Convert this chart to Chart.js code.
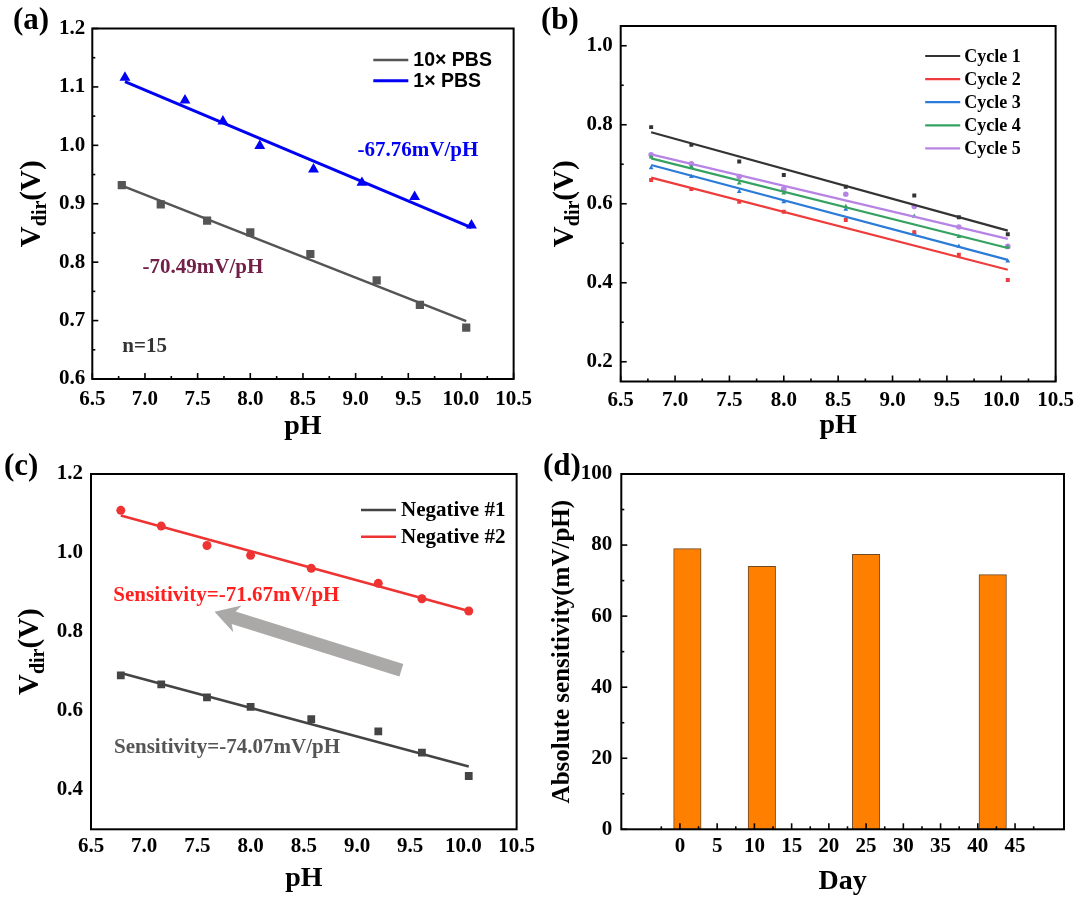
<!DOCTYPE html>
<html>
<head>
<meta charset="utf-8">
<script src="https://cdn.jsdelivr.net/npm/chart.js@4.4.1/dist/chart.umd.min.js"></script>
<style>
  html, body { margin: 0; padding: 0; background: #fff; }
  #fig { position: relative; width: 1080px; height: 901px; overflow: hidden; }
  #fig canvas { position: absolute; }
  .tag { position: absolute; font: bold 31px "Liberation Serif", "Times New Roman", serif; line-height: 1; color: #000; }
</style>
</head>
<body>
<div id="fig">
  <canvas id="ca" width="540" height="450" style="left:0;top:0"></canvas>
  <canvas id="cb" width="540" height="450" style="left:540px;top:0"></canvas>
  <canvas id="cc" width="540" height="451" style="left:0;top:450px"></canvas>
  <canvas id="cd" width="540" height="451" style="left:540px;top:450px"></canvas>
  <div class="tag" style="left:13px;top:3px">(a)</div>
  <div class="tag" style="left:541px;top:3px">(b)</div>
  <div class="tag" style="left:4px;top:449px">(c)</div>
  <div class="tag" style="left:543px;top:449px">(d)</div>
</div>
<script>
// ---- data ----
// tick labels
const phTicks = ['6.5', '7.0', '7.5', '8.0', '8.5', '9.0', '9.5', '10.0', '10.5'];
const vTicksA = ['0.6', '0.7', '0.8', '0.9', '1.0', '1.1', '1.2'];
const vTicksB = ['0.2', '0.4', '0.6', '0.8', '1.0'];
const vTicksC = ['0.4', '0.6', '0.8', '1.0', '1.2'];
const dayTicks = ['0', '5', '10', '15', '20', '25', '30', '35', '40', '45'];
const sensTicks = ['0', '20', '40', '60', '80', '100'];

// (a) buffer concentration
const phA10 = [6.78, 7.15, 7.59, 8.00, 8.57, 9.20, 9.61, 10.05];
const vA10 = [0.932, 0.899, 0.871, 0.851, 0.814, 0.769, 0.727, 0.688];
const fitA10 = [0.931, 0.699];
const phA1 = [6.81, 7.38, 7.74, 8.09, 8.60, 9.06, 9.56, 10.10];
const vA1 = [1.116, 1.077, 1.041, 0.999, 0.959, 0.936, 0.912, 0.863];
const fitA1 = [1.109, 0.859];

// (b) five cycles
const phB = [6.78, 7.15, 7.59, 8.00, 8.57, 9.20, 9.61, 10.06];
const cycle1 = [0.794, 0.749, 0.707, 0.673, 0.643, 0.621, 0.566, 0.523];
const cycle2 = [0.660, 0.637, 0.605, 0.580, 0.559, 0.528, 0.471, 0.407];
const cycle3 = [0.691, 0.669, 0.631, 0.605, 0.586, 0.527, 0.492, 0.455];
const cycle4 = [0.718, 0.694, 0.652, 0.627, 0.593, 0.568, 0.517, 0.490];
const cycle5 = [0.724, 0.701, 0.669, 0.637, 0.624, 0.593, 0.541, 0.492];
const fitB = [[0.781, 0.532], [0.666, 0.433], [0.698, 0.458], [0.715, 0.488], [0.725, 0.511]];

// (c) two negatives
const phC = [6.78, 7.16, 7.59, 8.00, 8.57, 9.20, 9.61, 10.05];
const neg1 = [0.690, 0.667, 0.634, 0.610, 0.579, 0.548, 0.494, 0.435];
const neg2 = [1.108, 1.068, 1.019, 0.994, 0.961, 0.923, 0.884, 0.853];
const fitNeg1 = [0.696, 0.459];
const fitNeg2 = [1.095, 0.853];

// (d) stability over days
const days = [1, 11, 25, 42];
const sens = [79.0, 74.0, 77.4, 71.7];

// ---- helpers ----
const serif = '"Liberation Serif", "Times New Roman", serif';
const sans = '"Liberation Sans", Arial, sans-serif';

const pts = (xs, ys) => xs.map((x, i) => ({ x, y: ys[i] }));
const fit = (xs, ends) => [{ x: xs[0], y: ends[0] }, { x: xs[xs.length - 1], y: ends[1] }];

function axis(min, max, labels, size, pad, title) {
  const a = {
    type: 'linear', min, max,
    grid: { display: false, drawTicks: false }, border: { display: false },
    afterBuildTicks: s => { s.ticks = labels.map(l => ({ value: +l })); },
    ticks: {
      color: '#000', padding: pad, autoSkip: false, maxRotation: 0,
      font: { family: serif, size: 21, weight: 'bold' },
      callback: (v, i) => labels[i]
    },
    afterFit: s => { if (s.axis === 'x') s.height = size; else s.width = size; }
  };
  if (title) a.title = { display: true, text: title.text, color: '#000', padding: title.pad, font: { family: serif, size: title.size, weight: 'bold' } };
  return a;
}

const decor = {
  id: 'decor',
  afterDraw(chart, _a, o) {
    const { ctx, chartArea: ca, scales: { x, y } } = chart;
    ctx.save();
    if (o.arrow) {
      const a = o.arrow;
      const x0 = x.getPixelForValue(a.from[0]), y0 = y.getPixelForValue(a.from[1]);
      const x1 = x.getPixelForValue(a.to[0]), y1 = y.getPixelForValue(a.to[1]);
      const len = Math.hypot(x1 - x0, y1 - y0);
      ctx.save();
      ctx.translate(x0, y0);
      ctx.rotate(Math.atan2(y1 - y0, x1 - x0));
      const hw = a.width / 2, hh = a.headWidth / 2, hl = a.head;
      ctx.beginPath();
      ctx.moveTo(0, -hw); ctx.lineTo(len - hl, -hw); ctx.lineTo(len - hl - 4, -hh);
      ctx.lineTo(len, 0);
      ctx.lineTo(len - hl - 4, hh); ctx.lineTo(len - hl, hw); ctx.lineTo(0, hw);
      ctx.closePath();
      ctx.fillStyle = a.color;
      ctx.fill();
      ctx.restore();
    }
    if (o.ticks) {
      ctx.strokeStyle = '#000';
      ctx.lineWidth = 1.6;
      const mark = (s, v, len) => {
        const p = s.getPixelForValue(v);
        ctx.beginPath();
        if (s.axis === 'x') { ctx.moveTo(p, ca.bottom); ctx.lineTo(p, ca.bottom - len); }
        else { ctx.moveTo(ca.left, p); ctx.lineTo(ca.left + len, p); }
        ctx.stroke();
      };
      for (const s of [x, y]) {
        const t = s.ticks.map(k => k.value);
        t.forEach(v => mark(s, v, 6));
        const h = (t[1] - t[0]) / 2;
        for (let v = t[0] - h; v <= s.max + 1e-9; v += 2 * h) if (v >= s.min - 1e-9) mark(s, v, 3);
      }
    }
    ctx.lineWidth = 2;
    ctx.strokeStyle = '#000';
    ctx.strokeRect(ca.left, ca.top, ca.right - ca.left, ca.bottom - ca.top);

    ctx.textAlign = 'left';
    ctx.textBaseline = 'middle';
    for (const n of o.notes || []) {
      ctx.font = `bold ${n.size || 21}px ${serif}`;
      ctx.fillStyle = n.color;
      ctx.fillText(n.text, x.getPixelForValue(n.x), y.getPixelForValue(n.y));
    }
    if (o.legend) {
      const L = o.legend;
      chart.data.datasets.filter(d => d.label).forEach((d, i) => {
        const yy = ca.top + L.top + i * L.gap;
        ctx.strokeStyle = d.borderColor;
        ctx.lineWidth = d.borderWidth;
        ctx.beginPath();
        ctx.moveTo(ca.left + L.left, yy);
        ctx.lineTo(ca.left + L.left + L.len, yy);
        ctx.stroke();
        ctx.font = L.font;
        ctx.fillStyle = '#000';
        ctx.fillText(d.label, ca.left + L.left + L.len + L.space, yy + 1);
      });
    }
    if (o.vdir) {
      ctx.translate(o.vdir, (ca.top + ca.bottom) / 2);
      ctx.rotate(-Math.PI / 2);
      const big = `bold 29px ${serif}`, small = `bold 20px ${serif}`;
      ctx.font = big;
      const w1 = ctx.measureText('V').width, w3 = ctx.measureText('(V)').width;
      ctx.font = small;
      const w2 = ctx.measureText('dir').width;
      let sx = -(w1 + w2 + w3) / 2;
      ctx.textBaseline = 'alphabetic';
      ctx.fillStyle = '#000';
      ctx.font = big; ctx.fillText('V', sx, 0); sx += w1;
      ctx.font = small; ctx.fillText('dir', sx, 6); sx += w2;
      ctx.font = big; ctx.fillText('(V)', sx, 0);
    }
    ctx.restore();
  }
};

const base = (pad, scales, decorOpts) => ({
  responsive: false,
  animation: false,
  layout: { padding: pad },
  scales,
  plugins: { legend: { display: false }, tooltip: { enabled: false }, decor: decorOpts }
});

const marker = (data, color, style, r) => ({
  type: 'scatter', data, pointStyle: style, pointRadius: r,
  pointBackgroundColor: color, pointBorderColor: color, pointBorderWidth: 0
});
const line = (label, data, color, w) => ({
  type: 'line', label, data, borderColor: color, borderWidth: w,
  pointRadius: 0, fill: false, tension: 0
});

// ---- (a) ----
new Chart(document.getElementById('ca'), {
  type: 'scatter',
  data: {
    datasets: [
      line('10\u00d7 PBS', fit(phA10, fitA10), '#555555', 2.5),
      line('1\u00d7 PBS', fit(phA1, fitA1), '#0000f5', 3),
      marker(pts(phA10, vA10), '#555555', 'rect', 5.8),
      marker(pts(phA1, vA1), '#0000f5', 'triangle', 6.3)
    ]
  },
  options: base({ top: 28.5, right: 9, left: 0, bottom: 0 }, {
    x: axis(6.5, 10.5, phTicks, 71, 8, { text: 'pH', size: 28, pad: { top: 0, bottom: 6 } }),
    y: axis(0.6, 1.2, vTicksA, 92.3, 7)
  }, {
    ticks: true, vdir: 40,
    legend: { left: 281, top: 31.5, gap: 20.7, len: 35, space: 5, font: `bold 19.5px ${sans}` },
    notes: [
      { text: '-67.76mV/pH', x: 9.018, y: 0.991, color: '#0000f5' },
      { text: '-70.49mV/pH', x: 6.977, y: 0.791, color: '#722048' },
      { text: 'n=15', x: 6.785, y: 0.655, color: '#333333' }
    ]
  }),
  plugins: [decor]
});

// ---- (b) ----
const cycleColors = ['#333333', '#ee3b3b', '#2b7bd8', '#35a262', '#b784e6'];
const cycleData = [cycle1, cycle2, cycle3, cycle4, cycle5];
const cycleStyles = ['rect', 'rect', 'triangle', 'triangle', 'circle'];
new Chart(document.getElementById('cb'), {
  type: 'scatter',
  data: {
    datasets: [
      ...cycleData.map((c, i) => line('Cycle ' + (i + 1), fit(phB, fitB[i]), cycleColors[i], 2.2)),
      ...cycleData.map((c, i) => marker(pts(phB, c), cycleColors[i], cycleStyles[i], 2.8))
    ]
  },
  options: base({ top: 26, right: 17.5, left: 0, bottom: 0 }, {
    x: axis(6.5, 10.5, phTicks, 68.5, 6, { text: 'pH', size: 28, pad: { top: 0, bottom: 7 } }),
    y: axis(0.15, 1.05, vTicksB, 80.7, 8)
  }, {
    ticks: true, vdir: 33,
    legend: { left: 304.5, top: 30, gap: 23.1, len: 35, space: 4, font: `bold 18px ${serif}` }
  }),
  plugins: [decor]
});

// ---- (c) ----
new Chart(document.getElementById('cc'), {
  type: 'scatter',
  data: {
    datasets: [
      line('Negative #1', fit(phC, fitNeg1), '#444444', 2.5),
      line('Negative #2', fit(phC, fitNeg2), '#ee3333', 2.5),
      marker(pts(phC, neg1), '#444444', 'rect', 5.5),
      marker(pts(phC, neg2), '#ee3333', 'circle', 4.5)
    ]
  },
  options: base({ top: 24, right: 7, left: 0, bottom: 0 }, {
    x: axis(6.5, 10.5, phTicks, 71.7, 5, { text: 'pH', size: 28, pad: { top: 0, bottom: 5 } }),
    y: axis(0.3, 1.2, vTicksC, 91, 8)
  }, {
    ticks: false, vdir: 38,
    legend: { left: 270, top: 36, gap: 26.7, len: 35, space: 5, font: `bold 21px ${serif}` },
    arrow: { from: [9.417, 0.703], to: [7.661, 0.851], width: 13, headWidth: 28, head: 20, color: '#aba8a8' },
    notes: [
      { text: 'Sensitivity=-71.67mV/pH', x: 6.71, y: 0.891, color: '#ff1f1f' },
      { text: 'Sensitivity=-74.07mV/pH', x: 6.716, y: 0.508, color: '#555555' }
    ]
  }),
  plugins: [decor]
});

// ---- (d) ----
new Chart(document.getElementById('cd'), {
  type: 'bar',
  data: {
    datasets: [{
      data: pts(days, sens),
      backgroundColor: '#ff8000', borderColor: '#6b4a2a', borderWidth: 1,
      barThickness: 27.5, borderSkipped: false
    }]
  },
  options: base({ top: 24, right: 16, left: 0, bottom: 0 }, {
    x: axis(-4.9, 48.6, dayTicks, 71.7, 5, { text: 'Day', size: 28, pad: { top: 0, bottom: 2.5 } }),
    y: axis(0, 100, sensTicks, 81.3, 9, { text: 'Absolute sensitivity(mV/pH)', size: 25, pad: { top: 7.5, bottom: 0 } })
  }, { ticks: true }),
  plugins: [decor]
});
</script>
</body>
</html>
